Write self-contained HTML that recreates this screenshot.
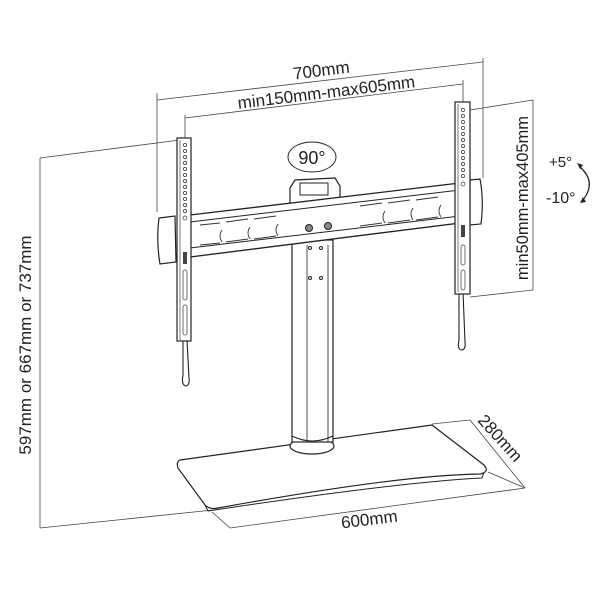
<!DOCTYPE html>
<html><head><style>
html,body{margin:0;padding:0;background:#fff;}
svg{display:block;}
text{font-family:"Liberation Sans",sans-serif;fill:#222;}
</style></head><body>
<svg width="600" height="600" viewBox="0 0 600 600" xmlns="http://www.w3.org/2000/svg">
<g stroke="#444" stroke-width="0.8" fill="none">
<line x1="40" y1="158" x2="40" y2="528"/>
<line x1="40" y1="158" x2="180" y2="140"/>
<line x1="40" y1="528" x2="213" y2="510"/>
<line x1="157" y1="93" x2="157" y2="212"/>
<line x1="483" y1="58" x2="483" y2="178"/>
<line x1="157" y1="100" x2="483" y2="62"/>
<line x1="185" y1="115" x2="185" y2="140"/>
<line x1="463" y1="80" x2="463" y2="104"/>
<line x1="185" y1="118" x2="463" y2="84"/>
<line x1="533" y1="100" x2="533" y2="290"/>
<line x1="470" y1="110" x2="533" y2="100"/>
<line x1="470" y1="297" x2="533" y2="290"/>
<line x1="212" y1="512" x2="230" y2="528"/>
<line x1="230" y1="528" x2="525" y2="488"/>
<line x1="488" y1="472" x2="525" y2="488"/>
<line x1="432" y1="424" x2="470" y2="420"/>
<line x1="470" y1="420" x2="525" y2="488"/>
</g>
<path d="M180,460 L432,425 L484,465 Q490,472 480,474 Q400,475 218,508 Q210,510 205,505 L178,468 Q176,462 180,460Z" fill="#fff" stroke="#222" stroke-width="1.2"/>
<path d="M205,505 L208,511 Q400,482 482,478 L484,472" fill="none" stroke="#222" stroke-width="1"/>
<ellipse cx="312" cy="446" rx="22" ry="8" fill="#fff" stroke="#222" stroke-width="1.2"/>
<rect x="292" y="240" width="41" height="202" fill="#fff" stroke="#222" stroke-width="1.2"/>
<line x1="307" y1="245" x2="307" y2="442" stroke="#222" stroke-width="0.8"/>
<line x1="328" y1="245" x2="328" y2="442" stroke="#222" stroke-width="0.8"/>
<path d="M292,436 Q312,446 333,436" fill="none" stroke="#222"/>
<circle cx="310" cy="248" r="1.5" fill="none" stroke="#222"/><circle cx="321" cy="248" r="1.5" fill="none" stroke="#222"/>
<circle cx="310" cy="278" r="1.5" fill="none" stroke="#222"/><circle cx="321" cy="278" r="1.5" fill="none" stroke="#222"/>
<path d="M290,188 L295,180 L335,178 L340,186 L340,210 L290,214Z" fill="#fff" stroke="#222" stroke-width="1.2"/>
<rect x="300" y="183" width="28" height="12" fill="#fff" stroke="#222"/>
<path d="M190,215 L460,183 L460,223 L190,257Z" fill="#fff" stroke="#222" stroke-width="1.3"/>
<line x1="190" y1="222" x2="460" y2="190" stroke="#222"/>
<line x1="190" y1="248" x2="460" y2="216" stroke="#222"/>
<g fill="none" stroke="#333" stroke-width="0.9">
<path d="M200,225 l20,-2 M200,245 l20,-2 M226,222 l22,-3 M226,242 l22,-3 M254,219 l22,-3 M254,239 l22,-3 M360,206 l22,-3 M360,226 l22,-3 M388,203 l22,-3 M388,223 l22,-3 M416,200 l22,-3 M416,220 l22,-3"/>
<path d="M222,230 q-4,6 0,12 M250,227 q-4,6 0,12 M278,224 q-4,6 0,12 M385,211 q-4,6 0,12 M413,208 q-4,6 0,12 M441,205 q-4,6 0,12"/>
</g>
<circle cx="309" cy="228" r="3.5" fill="#888" stroke="#222"/><circle cx="328" cy="226" r="3.5" fill="#888" stroke="#222"/>
<path d="M159,218 L175,216 L176,262 L160,264 Q156,240 159,218Z" fill="#fff" stroke="#222" stroke-width="1.2"/>
<path d="M470,180 L480,179 Q484,200 481,224 L470,225Z" fill="#fff" stroke="#222" stroke-width="1.2"/>
<path d="M183,340 L183,375 Q181,385 186,386 Q190,385 189,378 L187,340" fill="#fff" stroke="#222" stroke-width="1.1"/>
<rect x="177" y="138" width="14" height="203" fill="#fff" stroke="#222" stroke-width="1.2"/>
<line x1="180" y1="140" x2="180" y2="340" stroke="#222" stroke-width="0.6"/>
<path d="M459,292 L459,340 Q457,350 462,350 Q466,349 465,342 L463,292" fill="#fff" stroke="#222" stroke-width="1.1"/>
<rect x="455" y="102" width="15" height="192" fill="#fff" stroke="#222" stroke-width="1.2"/>
<line x1="458" y1="104" x2="458" y2="292" stroke="#222" stroke-width="0.6"/>
<g fill="none" stroke="#333" stroke-width="0.7">
<circle cx="185" cy="145" r="1.6"/><circle cx="185" cy="151" r="1.6"/><circle cx="185" cy="157" r="1.6"/><circle cx="185" cy="163" r="1.6"/><circle cx="185" cy="169" r="1.6"/><circle cx="185" cy="175" r="1.6"/><circle cx="185" cy="181" r="1.6"/><circle cx="185" cy="187" r="1.6"/><circle cx="185" cy="193" r="1.6"/><circle cx="185" cy="199" r="1.6"/><circle cx="185" cy="205" r="1.6"/><circle cx="185" cy="211" r="1.6"/><circle cx="185" cy="218" r="2"/>
<rect x="183" y="270" width="4" height="30" rx="2"/><rect x="183" y="305" width="4" height="30" rx="2"/>
<circle cx="463" cy="110" r="1.6"/><circle cx="463" cy="116" r="1.6"/><circle cx="463" cy="122" r="1.6"/><circle cx="463" cy="128" r="1.6"/><circle cx="463" cy="134" r="1.6"/><circle cx="463" cy="140" r="1.6"/><circle cx="463" cy="146" r="1.6"/><circle cx="463" cy="152" r="1.6"/><circle cx="463" cy="158" r="1.6"/><circle cx="463" cy="164" r="1.6"/><circle cx="463" cy="170" r="1.6"/><circle cx="463" cy="176" r="1.6"/><circle cx="463" cy="184" r="2"/>
<rect x="461" y="245" width="4" height="20" rx="2"/><rect x="461" y="270" width="4" height="20" rx="2"/>
</g>
<rect x="183" y="252" width="4" height="12" fill="#444"/>
<rect x="461" y="225" width="4" height="12" fill="#444"/>
<ellipse cx="312" cy="157" rx="24" ry="15" fill="none" stroke="#222" stroke-width="0.9"/>
<text x="312" y="164" font-size="18" text-anchor="middle">90°</text>
<path d="M580,167 Q597,182 583,200" fill="none" stroke="#222" stroke-width="1.2"/>
<path d="M577,163 l6,2 l-3,4Z M580,203 l6,-1 l-3,-5Z" fill="#222"/>
<text x="549" y="167" font-size="15">+5°</text>
<text x="546" y="203" font-size="16">-10°</text>
<text transform="translate(322,76) rotate(-7)" font-size="17" text-anchor="middle">700mm</text>
<text transform="translate(327,98) rotate(-7)" font-size="17" text-anchor="middle">min150mm-max605mm</text>
<text transform="translate(528,198) rotate(-90)" font-size="16.5" text-anchor="middle">min50mm-max405mm</text>
<text transform="translate(31,345) rotate(-90)" font-size="17" text-anchor="middle">597mm or 667mm or 737mm</text>
<text transform="translate(370,525) rotate(-7)" font-size="17" text-anchor="middle">600mm</text>
<text transform="translate(496,442) rotate(48)" font-size="17" text-anchor="middle">280mm</text>
</svg>
</body></html>
